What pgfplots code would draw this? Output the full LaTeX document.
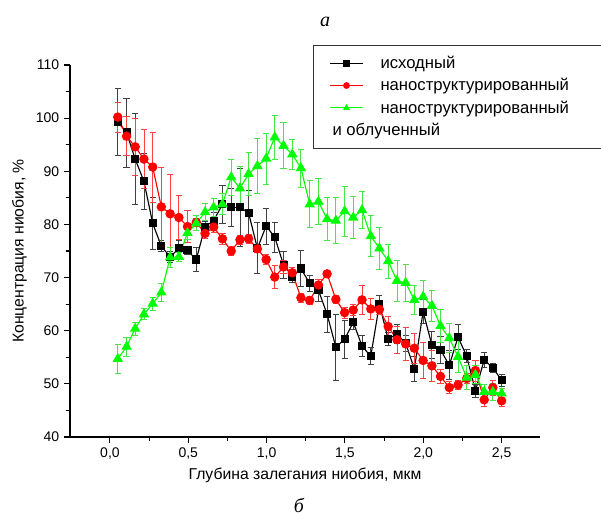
\documentclass[border=0pt]{standalone}
\usepackage{pgfplots}
\pgfplotsset{compat=1.18}
\usepackage{pgfplotstable}
\usepackage{fontspec}
\setmainfont{Liberation Sans}
\newfontfamily\timesfont{Liberation Serif}

\definecolor{ogreen}{RGB}{0,255,0}
\definecolor{ored}{RGB}{255,0,0}
\definecolor{lgreen}{RGB}{70,230,70}

% depth, black (initial) +err, red (nanostructured) +err, green (nano + irradiated) +err
\pgfplotstableread{
x b be r re g ge
0.050 99.3 6.3 100.2 2.8 54.7 2.7
0.106 97.3 6.5 96.6 3.7 57.0 1.8
0.161 92.3 8.5 94.6 5.4 60.4 1.2
0.217 88.1 5.3 92.3 5.5 63.1 1.0
0.273 80.2 4.9 90.8 6.6 65.1 1.2
0.328 75.9 1.0 83.3 7.5 67.2 1.7
0.384 73.9 1.0 82.0 7.4 73.8 1.9
0.440 75.5 1.5 81.3 4.2 73.9 0.8
0.495 75.1 0.8 79.6 3.0 78.4 1.3
0.551 73.4 2.2 80.4 0.8 80.2 1.4
0.607 79.6 1.0 78.3 1.0 82.3 1.6
0.662 80.7 1.5 79.5 1.0 83.2 1.7
0.718 83.8 3.6 77.3 1.0 83.8 2.0
0.774 83.2 3.5 75.0 0.8 88.9 3.4
0.830 83.2 7.3 77.1 0.8 86.8 4.1
0.885 82.2 4.2 77.3 0.8 89.5 4.1
0.941 75.5 4.8 75.4 0.7 91.0 5.1
0.997 79.7 3.4 73.4 1.0 92.4 4.8
1.052 77.6 2.8 70.1 2.1 96.4 4.2
1.108 72.4 2.5 72.0 1.2 94.8 4.3
1.164 70.2 1.2 70.9 1.0 93.2 2.8
1.219 71.7 3.4 66.2 0.8 90.6 3.6
1.275 68.9 1.5 65.7 0.8 83.8 4.4
1.331 67.6 2.0 68.6 1.0 84.3 4.3
1.386 63.1 3.4 70.7 0.6 81.0 4.1
1.442 56.9 6.2 65.9 0.8 80.7 4.3
1.498 58.4 3.6 63.4 1.0 82.5 4.7
1.553 61.6 1.3 63.9 1.0 81.3 3.9
1.609 57.1 2.0 65.8 2.8 82.7 3.5
1.665 55.2 1.6 64.1 1.9 77.8 3.9
1.720 65.0 1.6 64.0 1.0 75.5 4.0
1.776 58.4 1.2 60.8 1.9 73.1 3.2
1.832 59.4 1.8 58.3 2.5 69.4 3.9
1.888 57.6 1.5 57.5 3.1 69.0 3.5
1.943 52.8 2.4 56.7 2.8 65.8 2.7
1.999 63.6 2.2 54.4 3.3 66.4 3.0
2.055 57.3 2.6 53.4 2.9 64.7 2.9
2.110 56.4 2.5 51.4 1.4 60.9 3.1
2.166 53.5 2.7 49.3 1.1 58.6 2.7
2.222 58.8 2.4 49.8 0.8 55.1 3.0
2.277 55.2 1.2 51.0 1.0 51.2 2.3
2.333 48.7 1.2 52.5 2.0 51.7 1.7
2.389 54.5 1.4 47.0 1.3 48.5 1.4
2.444 53.0 0.8 49.3 1.4 48.5 1.6
2.500 50.7 1.1 46.8 1.0 48.2 0.9
}\data

\begin{document}
\begin{tikzpicture}[font=\fontsize{10.5}{12.5}\selectfont]
\path[use as bounding box] (-52.5pt,-64.5pt) rectangle (398.25pt,327.75pt);
\begin{axis}[
  scale only axis,
  width=352.5pt, height=279pt,
  xmin=-0.255, xmax=2.745,
  ymin=40, ymax=110,
  axis x line*=bottom, axis y line*=left,
  axis line style={line width=0.8pt},
  tick align=outside,
  major tick length=4.5pt, minor tick length=3pt,
  every tick/.style={black, line width=0.8pt},
  xtick={0,0.5,...,2.5}, ytick={40,50,...,110},
  minor x tick num=1, minor y tick num=1,
  /pgf/number format/assume math mode=true,
  xticklabel style={/pgf/number format/.cd, fixed, fixed zerofill, precision=1, use comma},
  label style={font=\fontsize{11.8}{14}\selectfont},
  xlabel={Глубина залегания ниобия, мкм},
  ylabel={Концентрация ниобия, \%},
  clip=false,
  legend cell align=left,
  legend image code/.code={%
    \path (-4pt,0pt) (35.5pt,0pt);
    \draw[mark repeat=2,mark phase=2,mark size=2.1pt] plot coordinates {(0pt,0pt) (12.4pt,0pt) (24.8pt,0pt)};},
  legend style={at={(0.517,1.054)}, anchor=north west, draw=black!80, line width=0.6pt,
    font=\fontsize{12.5}{15}\selectfont,
    inner xsep=8pt, inner ysep=5pt, row sep=0pt,
    nodes={inner ysep=3pt}},
  error bars/error bar style={line width=0.65pt},
]
\addplot[black, line width=0.85pt, mark=square*, mark size=2.6pt,
  error bars/.cd, y dir=both, y explicit,
  error bar style={black!75},
  error mark options={rotate=90, black!75, mark size=2.3pt, line width=0.65pt}]
  table[x=x, y=b, y error=be] {\data};
\addlegendentry{исходный}
\addplot[ored, line width=0.85pt, mark=*, mark size=3.1pt,
  error bars/.cd, y dir=both, y explicit,
  error bar style={ored!75},
  error mark options={rotate=90, ored!75, mark size=2.3pt, line width=0.65pt}]
  table[x=x, y=r, y error=re] {\data};
\addlegendentry{наноструктурированный\hspace*{22pt}}
\addplot[ogreen, line width=0.85pt, mark=triangle*, mark size=3.7pt,
  error bars/.cd, y dir=both, y explicit,
  error bar style={lgreen},
  error mark options={rotate=90, lgreen, mark size=2.3pt, line width=0.65pt}]
  table[x=x, y=g, y error=ge] {\data};
\addlegendentry{наноструктурированный}
\addlegendimage{empty legend}
\addlegendentry{\hspace*{-36pt}и облученный}
\end{axis}
\node[font=\fontsize{15}{18}\selectfont\timesfont\itshape] at (191.25pt,311pt) {а};
\node[font=\fontsize{15}{18}\selectfont\timesfont\itshape] at (171.75pt,-51pt) {б};
\end{tikzpicture}
\end{document}
